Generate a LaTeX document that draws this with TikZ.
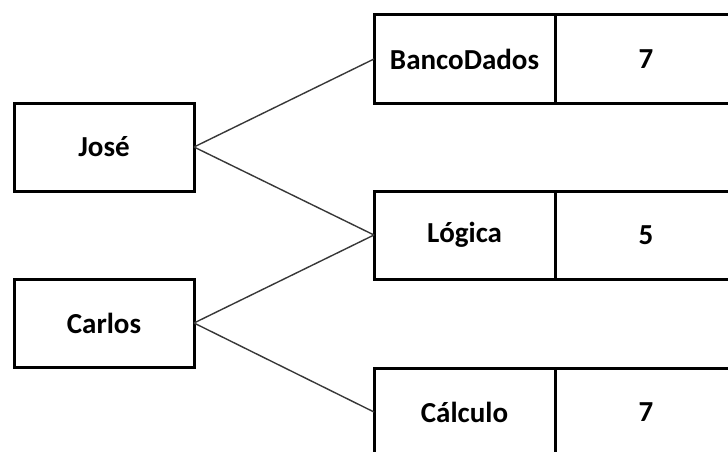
\documentclass[tikz,border=0pt]{standalone}
\usepackage{fontspec}
\setmainfont{Carlito}
\begin{document}
\begin{tikzpicture}[x=1pt,y=-1pt,
  cell/.style={draw=black, line width=3pt, rectangle, minimum height=88pt,
    inner sep=0pt, outer sep=0pt, font=\fontsize{29}{34}\selectfont\bfseries},
  namebox/.style={cell, minimum width=180pt},
  subjbox/.style={cell, minimum width=181pt},
  gradebox/.style={cell, minimum width=182pt},
  link/.style={draw=black!78, line width=1.4pt}]
  \clip (0,0) rectangle (728,452);
  \fill[white] (0,0) rectangle (728,452);

  % students
  \node[namebox] (jose) at (104,147) {José};
  \node[namebox] (carlos) at (104,323) {Carlos};

  % subjects with their grades
  \node[subjbox] (bd) at (464.5,59) {BancoDados};
  \node[gradebox, anchor=west] (bdn) at (bd.east) {7};
  \node[subjbox] (log) at (464.5,235) {Lógica};
  \node[gradebox, anchor=west] (logn) at (log.east) {5};
  \node[subjbox] (calc) at (464.5,412) {Cálculo};
  \node[gradebox, anchor=west] (calcn) at (calc.east) {7};

  % enrolments
  \draw[link] (jose.east) -- (bd.west);
  \draw[link] (jose.east) -- (log.west);
  \draw[link] (carlos.east) -- (log.west);
  \draw[link] (carlos.east) -- (calc.west);
\end{tikzpicture}
\end{document}
